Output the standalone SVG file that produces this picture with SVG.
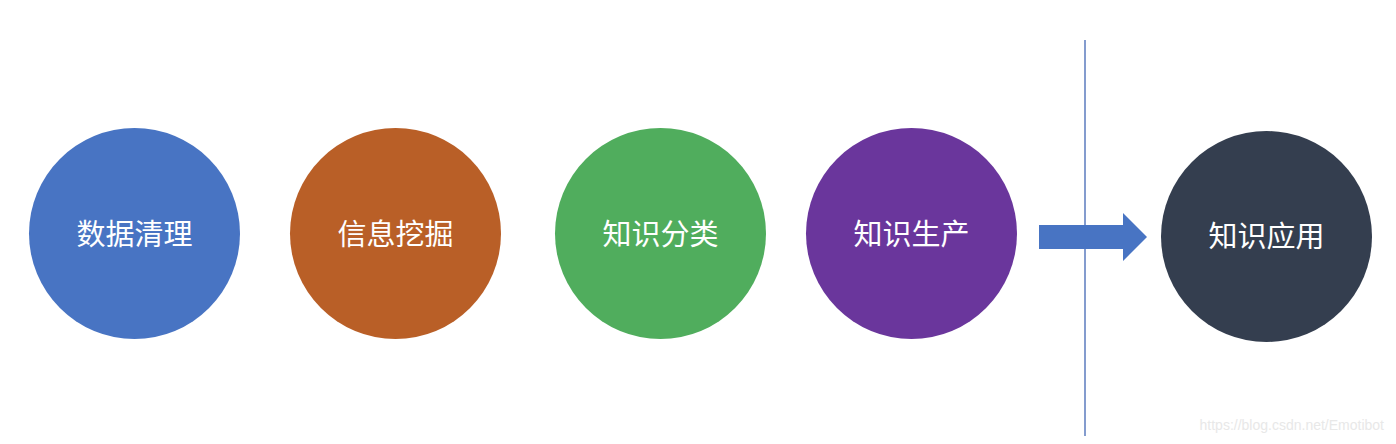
<svg xmlns="http://www.w3.org/2000/svg" width="1396" height="444" viewBox="0 0 1396 444">
<style>
.lbl{font-family:"Liberation Sans","Noto Sans CJK SC",sans-serif;font-size:29px;fill:#ffffff;text-anchor:middle;dominant-baseline:central}
</style>
<rect width="1396" height="444" fill="#ffffff"/>
<g id="node-1"><circle cx="134.5" cy="233.5" r="105.5" fill="#4874C3"/><text class="lbl" x="134.5" y="235">数据清理</text></g>
<g id="node-2"><circle cx="395.5" cy="233.5" r="105.5" fill="#B95F27"/><text class="lbl" x="395.5" y="235">信息挖掘</text></g>
<g id="node-3"><circle cx="660.5" cy="233.5" r="105.5" fill="#50AD5D"/><text class="lbl" x="660.5" y="235">知识分类</text></g>
<g id="node-4"><circle cx="911.5" cy="233.5" r="105.5" fill="#6A369C"/><text class="lbl" x="911.5" y="235">知识生产</text></g>
<g id="node-5"><circle cx="1266.5" cy="236.5" r="105.5" fill="#343E4F"/><text class="lbl" x="1266.5" y="237">知识应用</text></g>
<g id="connectors">
<line x1="1085" y1="40" x2="1085" y2="436" stroke="#5B7BBE" stroke-width="1.5"/>
<polygon points="1039,225 1123,225 1123,213 1147,237 1123,261 1123,249 1039,249" fill="#4874C3"/>
</g>
<text x="1384" y="430" font-family="Liberation Sans, sans-serif" font-size="14" fill="#e8e8e8" text-anchor="end">https://blog.csdn.net/Emotibot</text>
</svg>
